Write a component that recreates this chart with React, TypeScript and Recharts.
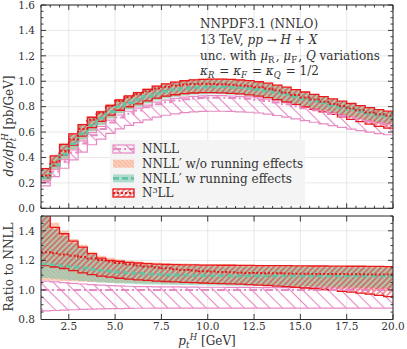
import React from 'react';
import { ComposedChart, Area, Line, XAxis, YAxis, CartesianGrid } from 'recharts';

// ---------- data ----------
const binLeft = [1.0, 1.5, 2.0, 2.5, 3.0, 3.5, 4.0, 4.5, 5.0, 5.5, 6.0, 6.5, 7.0, 7.5, 8.0, 8.5, 9.0, 9.5, 10.0, 10.5,
  11.0, 11.5, 12.0, 12.5, 13.0, 13.5, 14.0, 14.5, 15.0, 15.5, 16.0, 16.5, 17.0, 17.5, 18.0, 18.5, 19.0, 19.5];
const binRightEnd = 20.0;

// NNLL central value dσ/dpt [pb/GeV]
const nnllCentral = [0.205, 0.29, 0.365, 0.44, 0.51, 0.575, 0.625, 0.675, 0.715, 0.745,
  0.77, 0.795, 0.818, 0.835, 0.848, 0.858, 0.865, 0.869, 0.871, 0.871,
  0.869, 0.866, 0.862, 0.855, 0.845, 0.833, 0.819, 0.803, 0.787, 0.772,
  0.757, 0.742, 0.727, 0.711, 0.697, 0.683, 0.67, 0.66];

// ratios to NNLL central
const nnllRatioHigh = [1.06, 1.055, 1.05, 1.045, 1.04, 1.036, 1.032, 1.029, 1.027, 1.025,
  1.023, 1.022, 1.021, 1.02, 1.02, 1.019, 1.019, 1.018, 1.018, 1.018,
  1.017, 1.017, 1.017, 1.016, 1.016, 1.016, 1.015, 1.015, 1.015, 1.015,
  1.014, 1.014, 1.014, 1.013, 1.013, 1.013, 1.012, 1.012];
const nnllRatioLow = [0.858, 0.861, 0.864, 0.866, 0.868, 0.87, 0.872, 0.873, 0.874, 0.875,
  0.876, 0.876, 0.877, 0.877, 0.877, 0.877, 0.877, 0.877, 0.877, 0.877,
  0.877, 0.877, 0.877, 0.877, 0.877, 0.877, 0.877, 0.877, 0.877, 0.877,
  0.877, 0.877, 0.877, 0.877, 0.877, 0.877, 0.877, 0.877];

const woRatioHigh = [1.56, 1.455, 1.4, 1.345, 1.305, 1.258, 1.232, 1.218, 1.205, 1.197,
  1.192, 1.188, 1.185, 1.182, 1.18, 1.178, 1.177, 1.176, 1.175, 1.174,
  1.173, 1.172, 1.171, 1.17, 1.169, 1.168, 1.167, 1.166, 1.165, 1.164,
  1.163, 1.162, 1.161, 1.16, 1.159, 1.158, 1.157, 1.156];
const woRatioLow = [1.065, 1.062, 1.06, 1.058, 1.056, 1.054, 1.052, 1.05, 1.049, 1.048,
  1.047, 1.046, 1.045, 1.044, 1.043, 1.042, 1.041, 1.04, 1.039, 1.038,
  1.037, 1.036, 1.035, 1.034, 1.032, 1.03, 1.028, 1.026, 1.024, 1.022,
  1.02, 1.018, 1.016, 1.014, 1.012, 1.01, 1.008, 1.006];

const wRatioHigh = [1.5, 1.41, 1.365, 1.315, 1.28, 1.237, 1.207, 1.193, 1.186, 1.179,
  1.174, 1.17, 1.167, 1.164, 1.163, 1.162, 1.161, 1.16, 1.16, 1.159,
  1.159, 1.158, 1.158, 1.157, 1.157, 1.156, 1.156, 1.155, 1.155, 1.154,
  1.154, 1.153, 1.153, 1.152, 1.152, 1.151, 1.151, 1.15];
const wRatioLow = [1.08, 1.075, 1.07, 1.065, 1.06, 1.055, 1.05, 1.047, 1.044, 1.041,
  1.039, 1.037, 1.036, 1.035, 1.034, 1.033, 1.032, 1.031, 1.03, 1.03,
  1.029, 1.029, 1.028, 1.028, 1.027, 1.026, 1.025, 1.024, 1.023, 1.022,
  1.021, 1.02, 1.019, 1.018, 1.017, 1.016, 1.015, 1.014];
const wRatioCentral = [1.175, 1.17, 1.162, 1.155, 1.148, 1.14, 1.133, 1.127, 1.121, 1.116,
  1.112, 1.108, 1.105, 1.102, 1.1, 1.099, 1.098, 1.097, 1.096, 1.096,
  1.095, 1.095, 1.095, 1.095, 1.094, 1.094, 1.094, 1.094, 1.094, 1.094,
  1.094, 1.094, 1.094, 1.094, 1.094, 1.094, 1.094, 1.094];

const n3RatioHigh = [1.52, 1.423, 1.38, 1.33, 1.29, 1.246, 1.215, 1.2, 1.194, 1.187,
  1.182, 1.178, 1.175, 1.172, 1.171, 1.17, 1.169, 1.168, 1.168, 1.167,
  1.167, 1.166, 1.166, 1.165, 1.165, 1.164, 1.164, 1.163, 1.163, 1.162,
  1.162, 1.161, 1.161, 1.16, 1.16, 1.159, 1.159, 1.158];
const n3RatioLow = [1.165, 1.155, 1.145, 1.13, 1.115, 1.103, 1.094, 1.086, 1.079, 1.073,
  1.068, 1.064, 1.06, 1.057, 1.054, 1.051, 1.049, 1.047, 1.045, 1.043,
  1.041, 1.039, 1.036, 1.033, 1.03, 1.026, 1.022, 1.018, 1.013, 1.008,
  1.003, 0.997, 0.991, 0.985, 0.978, 0.971, 0.963, 0.955];
const n3RatioCentral = [1.255, 1.248, 1.24, 1.232, 1.222, 1.212, 1.202, 1.192, 1.182, 1.173,
  1.165, 1.158, 1.152, 1.146, 1.14, 1.135, 1.131, 1.127, 1.124, 1.121,
  1.119, 1.117, 1.115, 1.114, 1.113, 1.112, 1.111, 1.11, 1.109, 1.108,
  1.108, 1.107, 1.107, 1.106, 1.106, 1.105, 1.105, 1.105];

// ticks
const xMajor = [2.5, 5.0, 7.5, 10.0, 12.5, 15.0, 17.5, 20.0];
const xMajorLabels = ['2.5', '5.0', '7.5', '10.0', '12.5', '15.0', '17.5', '20.0'];
const topYMajor = [0.0, 0.2, 0.4, 0.6, 0.8, 1.0, 1.2, 1.4, 1.6];
const topYLabels = ['0.0', '0.2', '0.4', '0.6', '0.8', '1.0', '1.2', '1.4', '1.6'];
const ratioYMajor = [0.8, 1.0, 1.2, 1.4];
const ratioYLabels = ['0.8', '1.0', '1.2', '1.4'];

const legendLabels = ['NNLL', 'NNLL\u2032 w/o running effects', 'NNLL\u2032 w running effects', 'N3LL'];

// ---------- styling ----------
const PINK = '#e78ac3';
const ORANGE = '#fc8d62';
const GREEN = '#66c2a5';
const RED = '#e8191c';
const AX = '#262626';
const GRID = '#e2e2e2';
const TXT = '#333';
const FONT = 'DejaVu Serif';

function steps(from: number, to: number, step: number) {
  const out: number[] = [];
  const n = Math.round((to - from) / step);
  for (let k = 0; k <= n; k++) out.push(Math.round((from + k * step) * 1000) / 1000);
  return out;
}
const topXTicks = steps(1, 20, 0.5);
const topYTicks = steps(0, 1.6, 0.05);
const ratioYTicks = steps(0.8, 1.5, 0.05);

function buildRows(absolute: boolean) {
  const rows = binLeft.map((x, i) => {
    const s = absolute ? nnllCentral[i] : 1;
    return {
      x,
      nnll: [nnllRatioLow[i] * s, nnllRatioHigh[i] * s],
      nnllC: s,
      wo: [woRatioLow[i] * s, woRatioHigh[i] * s],
      w: [wRatioLow[i] * s, wRatioHigh[i] * s],
      wC: wRatioCentral[i] * s,
      n3: [n3RatioLow[i] * s, n3RatioHigh[i] * s],
      n3C: n3RatioCentral[i] * s,
    };
  });
  rows.push({ ...rows[rows.length - 1], x: binRightEnd });
  return rows;
}

function findIdx(list: number[], v: number) {
  return list.findIndex((m) => Math.abs(m - v) < 1e-6);
}

function makeXTick(dir: number, majors: number[], labels: string[] | null, majorLen: number, minorLen: number) {
  return (p: any) => {
    const v = p.payload.value;
    const idx = findIdx(majors, v);
    const len = idx >= 0 ? majorLen : minorLen;
    return (
      <g>
        <line x1={p.x} y1={p.y} x2={p.x} y2={p.y + dir * len} stroke={AX} strokeWidth={0.9} />
        {labels && idx >= 0 && (
          <text x={p.x} y={p.y + 10} textAnchor="middle" fontFamily={FONT} fontSize={10.5} fill={TXT}>
            {labels[idx]}
          </text>
        )}
      </g>
    );
  };
}

function makeYTick(dir: number, majors: number[], labels: string[] | null) {
  return (p: any) => {
    const v = p.payload.value;
    const idx = findIdx(majors, v);
    const len = idx >= 0 ? 5 : 2.5;
    return (
      <g>
        <line x1={p.x} y1={p.y} x2={p.x + dir * len} y2={p.y} stroke={AX} strokeWidth={0.9} />
        {labels && idx >= 0 && (
          <text x={p.x - 6} y={p.y} dy="0.36em" textAnchor="end" fontFamily={FONT} fontSize={10.5} fill={TXT}>
            {labels[idx]}
          </text>
        )}
      </g>
    );
  };
}

function Series() {
  return [
    <Area key="a1" xAxisId="b" yAxisId="l" type="stepAfter" dataKey="nnll" stroke={PINK} strokeWidth={1.2}
      fill="url(#pinkHatch)" fillOpacity={1} dot={false} activeDot={false} isAnimationActive={false} />,
    <Area key="a2" xAxisId="b" yAxisId="l" type="stepAfter" dataKey="wo" stroke="none"
      fill="url(#orangeHatch)" fillOpacity={1} dot={false} activeDot={false} isAnimationActive={false} />,
    <Area key="a3" xAxisId="b" yAxisId="l" type="stepAfter" dataKey="w" stroke="none"
      fill={GREEN} fillOpacity={0.5} dot={false} activeDot={false} isAnimationActive={false} />,
    <Area key="a4" xAxisId="b" yAxisId="l" type="stepAfter" dataKey="n3" stroke={RED} strokeWidth={1.3}
      fill="url(#redHatch)" fillOpacity={1} dot={false} activeDot={false} isAnimationActive={false} />,
    <Line key="l1" xAxisId="b" yAxisId="l" type="stepAfter" dataKey="nnllC" stroke={PINK} strokeWidth={2}
      strokeDasharray="8 3 2 3" dot={false} activeDot={false} isAnimationActive={false} />,
    <Line key="l2" xAxisId="b" yAxisId="l" type="stepAfter" dataKey="wC" stroke={GREEN} strokeWidth={2.6}
      strokeDasharray="6 3" dot={false} activeDot={false} isAnimationActive={false} />,
    <Line key="l3" xAxisId="b" yAxisId="l" type="stepAfter" dataKey="n3C" stroke={RED} strokeWidth={2}
      strokeDasharray="2 2" dot={false} activeDot={false} isAnimationActive={false} />,
  ];
}

const sub = (t: string, italic = false) => (
  <>
    <tspan fontSize={8.5} dy={3} fontStyle={italic ? 'italic' : 'normal'}>{t}</tspan>
    <tspan dy={-3}>{'\u200a'}</tspan>
  </>
);

export default function App() {
  const topRows = buildRows(true);
  const ratioRows = buildRows(false);
  const axisLine = { stroke: AX, strokeWidth: 1 };
  const legendY = [149, 163.7, 178.4, 193];

  return (
    <div style={{ position: 'absolute', left: 0, top: 0, width: 407, height: 349, background: '#fff' }}>
      <svg width={0} height={0} style={{ position: 'absolute' }}>
        <defs>
          <pattern id="pinkHatch" patternUnits="userSpaceOnUse" width="9" height="9" patternTransform="rotate(-45)">
            <line x1="4.5" y1="0" x2="4.5" y2="9" stroke={PINK} strokeWidth="1.1" />
          </pattern>
          <pattern id="orangeHatch" patternUnits="userSpaceOnUse" width="3" height="3" patternTransform="rotate(-45)">
            <rect width="3" height="3" fill={ORANGE} fillOpacity="0.55" />
            <line x1="1.5" y1="0" x2="1.5" y2="3" stroke="#fff" strokeWidth="0.7" strokeOpacity="0.6" />
          </pattern>
          <pattern id="redHatch" patternUnits="userSpaceOnUse" width="4" height="4" patternTransform="rotate(45)">
            <line x1="2" y1="0" x2="2" y2="4" stroke={RED} strokeWidth="0.9" />
          </pattern>
        </defs>
      </svg>

      <div style={{ position: 'absolute', left: 0, top: 0 }}>
        <ComposedChart width={407} height={216} data={topRows} margin={{ top: 4, right: 13, bottom: 6.7, left: 40 }}>
          <CartesianGrid xAxisId="b" yAxisId="l" stroke={GRID} strokeWidth={0.8}
            horizontalValues={topYMajor} verticalValues={xMajor} />
          <XAxis xAxisId="b" dataKey="x" type="number" domain={[1, 20]} allowDataOverflow ticks={topXTicks}
            interval={0} height={1} tickSize={0} tickMargin={0} tickLine={false} axisLine={axisLine}
            tick={makeXTick(-1, xMajor, null, 5, 2.5)} />
          <XAxis xAxisId="t" dataKey="x" orientation="top" type="number" domain={[1, 20]} allowDataOverflow ticks={topXTicks}
            interval={0} height={1} tickSize={0} tickMargin={0} tickLine={false} axisLine={axisLine}
            tick={makeXTick(1, xMajor, null, 5, 2.5)} />
          <YAxis yAxisId="l" type="number" domain={[0, 1.6]} allowDataOverflow ticks={topYTicks}
            interval={0} width={1} tickSize={0} tickMargin={0} tickLine={false} axisLine={axisLine}
            tick={makeYTick(1, topYMajor, topYLabels)} />
          <YAxis yAxisId="r" orientation="right" type="number" domain={[0, 1.6]} allowDataOverflow ticks={topYTicks}
            interval={0} width={1} tickSize={0} tickMargin={0} tickLine={false} axisLine={axisLine}
            tick={makeYTick(-1, topYMajor, null)} />
          {Series()}
        </ComposedChart>
      </div>

      <div style={{ position: 'absolute', left: 0, top: 210 }}>
        <ComposedChart width={407} height={139} data={ratioRows} margin={{ top: 5, right: 13, bottom: 28.5, left: 40 }}>
          <CartesianGrid xAxisId="b" yAxisId="l" stroke={GRID} strokeWidth={0.8}
            horizontalValues={ratioYMajor} verticalValues={xMajor} />
          <XAxis xAxisId="b" dataKey="x" type="number" domain={[1, 20]} allowDataOverflow ticks={xMajor}
            interval={0} height={1} tickSize={0} tickMargin={0} tickLine={false} axisLine={axisLine}
            tick={makeXTick(-1, xMajor, xMajorLabels, 5.5, 5.5)} />
          <XAxis xAxisId="t" dataKey="x" orientation="top" type="number" domain={[1, 20]} allowDataOverflow ticks={xMajor}
            interval={0} height={1} tickSize={0} tickMargin={0} tickLine={false} axisLine={axisLine}
            tick={makeXTick(1, xMajor, null, 5.5, 5.5)} />
          <YAxis yAxisId="l" type="number" domain={[0.8, 1.5]} allowDataOverflow ticks={ratioYTicks}
            interval={0} width={1} tickSize={0} tickMargin={0} tickLine={false} axisLine={axisLine}
            tick={makeYTick(1, ratioYMajor, ratioYLabels)} />
          <YAxis yAxisId="r" orientation="right" type="number" domain={[0.8, 1.5]} allowDataOverflow ticks={ratioYTicks}
            interval={0} width={1} tickSize={0} tickMargin={0} tickLine={false} axisLine={axisLine}
            tick={makeYTick(-1, ratioYMajor, null)} />
          {Series()}
        </ComposedChart>
      </div>

      <svg width={407} height={349} style={{ position: 'absolute', left: 0, top: 0, pointerEvents: 'none' }}
        fontFamily={FONT} fill={TXT}>
        {/* legend */}
        <rect x={110} y={140} width={195} height={66} fill="#f3f3f3" fillOpacity={0.93} />
        {legendY.map((cy, i) => (
          <g key={i}>
            {i === 0 && (
              <>
                <rect x={113} y={cy - 4} width={21} height={8} fill="url(#pinkHatch)" stroke={PINK} strokeWidth={1.2} />
                <line x1={113} y1={cy} x2={134} y2={cy} stroke={PINK} strokeWidth={2} strokeDasharray="8 3 2 3" />
              </>
            )}
            {i === 1 && <rect x={113} y={cy - 4} width={21} height={8} fill="url(#orangeHatch)" />}
            {i === 2 && (
              <>
                <rect x={113} y={cy - 4} width={21} height={8} fill={GREEN} fillOpacity={0.5} />
                <line x1={113} y1={cy} x2={134} y2={cy} stroke={GREEN} strokeWidth={2.6} strokeDasharray="6 3" />
              </>
            )}
            {i === 3 && (
              <>
                <rect x={113} y={cy - 4} width={21} height={8} fill="url(#redHatch)" stroke={RED} strokeWidth={1.3} />
                <line x1={113} y1={cy} x2={134} y2={cy} stroke={RED} strokeWidth={2} strokeDasharray="2 2" />
              </>
            )}
            {i === 3 ? (
              <text x={142} y={cy + 4.3} fontSize={12}>
                N<tspan fontSize={8} dy={-4.5}>3</tspan><tspan dy={4.5}>LL</tspan>
              </text>
            ) : (
              <text x={142} y={cy + 4.3} fontSize={12}>{legendLabels[i]}</text>
            )}
          </g>
        ))}

        {/* annotations */}
        <text x={200} y={28} fontSize={12}>NNPDF3.1 (NNLO)</text>
        <text x={200} y={44} fontSize={12}>
          13 TeV, <tspan fontStyle="italic">pp</tspan> {'\u2192'} <tspan fontStyle="italic">H</tspan> + <tspan fontStyle="italic">X</tspan>
        </text>
        <text x={200} y={59.5} fontSize={12}>
          unc. with <tspan fontStyle="italic">μ</tspan>{sub('R')}, <tspan fontStyle="italic">μ</tspan>{sub('F')}, <tspan fontStyle="italic">Q</tspan> variations
        </text>
        <text x={200} y={75} fontSize={12}>
          <tspan fontStyle="italic">κ</tspan>{sub('R', true)} = <tspan fontStyle="italic">κ</tspan>{sub('F', true)} = <tspan fontStyle="italic">κ</tspan>{sub('Q', true)} = 1/2
        </text>

        {/* axis titles */}
        <text transform="translate(12.5,126) rotate(-90)" textAnchor="middle" fontSize={12}>
          <tspan fontStyle="italic">dσ/dp</tspan>
          <tspan fontSize={8.5} fontStyle="italic" dy={3}>t</tspan>
          <tspan fontSize={8.5} fontStyle="italic" dx={-3} dy={-8}>H</tspan>
          <tspan dy={5}>{' [pb/GeV]'}</tspan>
        </text>
        <text transform="translate(12.5,267) rotate(-90)" textAnchor="middle" fontSize={12}>Ratio to NNLL</text>
        <text x={207} y={344.5} textAnchor="middle" fontSize={12}>
          <tspan fontStyle="italic">p</tspan>
          <tspan fontSize={8.5} fontStyle="italic" dy={3}>t</tspan>
          <tspan fontSize={8.5} fontStyle="italic" dx={0.5} dy={-8}>H</tspan>
          <tspan dy={5}>{'  [GeV]'}</tspan>
        </text>
      </svg>
    </div>
  );
}
